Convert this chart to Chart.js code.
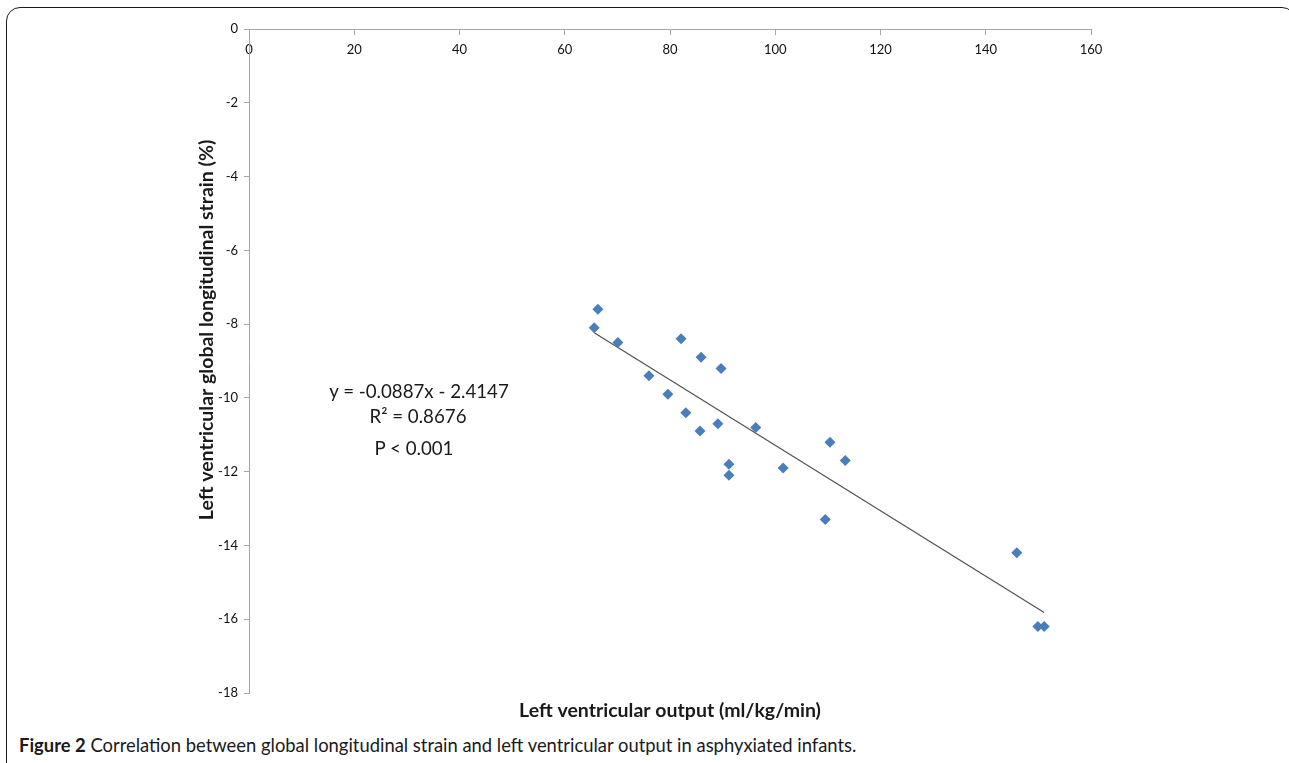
<!DOCTYPE html>
<html lang="en">
<head>
    <meta charset="UTF-8">
    <title>Figure 2</title>
    <script src="https://cdn.jsdelivr.net/npm/chart.js"></script>
    <style>
        html, body { margin: 0; padding: 0; background: #fff; overflow: hidden; }
        body { width: 1289px; height: 763px; position: relative; font-family: Lato, "Open Sans", sans-serif; }
        .moldura {
            position: absolute; left: 6px; top: 7px; width: 1290px; height: 800px;
            border: 1.6px solid #1a1a1a; border-radius: 14px; box-sizing: border-box;
        }
        .grafico { position: absolute; left: 0; top: 0; width: 1289px; height: 725px; }
        .equacao { position: absolute; color: #1a1a1a; font-size: 18.7px; line-height: 22px; text-align: center; width: 260px; }
        .legenda { position: absolute; left: 19px; top: 734px; font-size: 18.4px; line-height: 22px; color: #1a1a1a; white-space: nowrap; }
        .legenda b { font-weight: 700; }
    </style>
</head>
<body>
    <div class="moldura"></div>
    <div class="grafico"><canvas id="graficoStrain"></canvas></div>

    <!-- Equação da reta -->
    <div class="equacao" style="left:289px; top:380px;">y = -0.0887x - 2.4147</div>
    <div class="equacao" style="left:288px; top:405px;">R² = 0.8676</div>
    <div class="equacao" style="left:284px; top:437px;">P &lt; 0.001</div>

    <div class="legenda"><b>Figure 2</b> Correlation between global longitudinal strain and left ventricular output in asphyxiated infants.</div>

    <script>
// Débito do VE (ml/kg/min)
const debitoVE = [65.6, 66.3, 70.1, 76.0, 79.6, 82.1, 83.0, 85.7, 85.9, 89.1, 89.7,
                  91.2, 91.2, 96.3, 101.5, 109.5, 110.4, 113.3, 145.9, 149.9, 151.1];
// Strain longitudinal global (%)
const strainGLS = [-8.1, -7.6, -8.5, -9.4, -9.9, -8.4, -10.4, -10.9, -8.9, -10.7, -9.2,
                   -11.8, -12.1, -10.8, -11.9, -13.3, -11.2, -11.7, -14.2, -16.2, -16.2];
// Reta de tendência
const inclinacao = -0.0887;
const intercepto = -2.4147;

const ticksX = { min: 0, max: 160, passo: 20 };
const ticksY = { min: -18, max: 0, passo: 2 };

const tituloX = 'Left ventricular output (ml/kg/min)';
const tituloY = 'Left ventricular global longitudinal strain (%)';

const pontos = debitoVE.map((x, i) => ({ x: x, y: strainGLS[i] }));
const xMin = Math.min(...debitoVE);
const xMax = Math.max(...debitoVE);
const reta = [
    { x: xMin, y: inclinacao * xMin + intercepto },
    { x: xMax, y: inclinacao * xMax + intercepto }
];

const familia = 'Lato, "Open Sans", sans-serif';
const fonteTick = { family: familia, size: 13 };

// Títulos dos eixos (posição igual à do original)
const titulosEixos = {
    id: 'titulosEixos',
    afterDraw(chart) {
        const { ctx, chartArea } = chart;
        ctx.save();
        ctx.fillStyle = '#1a1a1a';
        ctx.font = 'bold 19.5px ' + familia;
        ctx.textAlign = 'center';
        ctx.textBaseline = 'middle';
        ctx.fillText(tituloX, (chartArea.left + chartArea.right) / 2, chartArea.bottom + 18);
        ctx.translate(207, 330);
        ctx.rotate(-Math.PI / 2);
        ctx.fillText(tituloY, 0, 0);
        ctx.restore();
    }
};

new Chart(document.getElementById('graficoStrain').getContext('2d'), {
    type: 'scatter',
    data: {
        datasets: [
            {
                data: pontos,
                pointStyle: 'rectRot',
                pointRadius: 5.5,
                backgroundColor: '#4a7ebb',
                borderColor: '#4a7ebb',
                borderWidth: 0,
                order: 1
            },
            {
                data: reta,
                showLine: true,
                borderColor: '#555555',
                borderWidth: 1.3,
                pointRadius: 0,
                order: 2
            }
        ]
    },
    options: {
        responsive: true,
        maintainAspectRatio: false,
        animation: false,
        layout: { padding: { left: 190, top: 29, right: 198, bottom: 32 } },
        plugins: {
            legend: { display: false },
            tooltip: { enabled: false }
        },
        scales: {
            x: {
                type: 'linear',
                position: { y: 0 },
                min: ticksX.min,
                max: ticksX.max,
                ticks: { stepSize: ticksX.passo, color: '#111', font: fonteTick, padding: 8 },
                grid: { drawOnChartArea: false, tickLength: 5, color: '#a6a6a6' },
                border: { color: '#a6a6a6', width: 1 }
            },
            y: {
                type: 'linear',
                position: 'left',
                min: ticksY.min,
                max: ticksY.max,
                ticks: { stepSize: ticksY.passo, color: '#111', font: fonteTick, padding: 6 },
                grid: { drawOnChartArea: false, tickLength: 5, color: '#a6a6a6' },
                border: { color: '#a6a6a6', width: 1 },
                afterFit: (escala) => { escala.width = 59; }
            }
        }
    },
    plugins: [titulosEixos]
});
    </script>
</body>
</html>
